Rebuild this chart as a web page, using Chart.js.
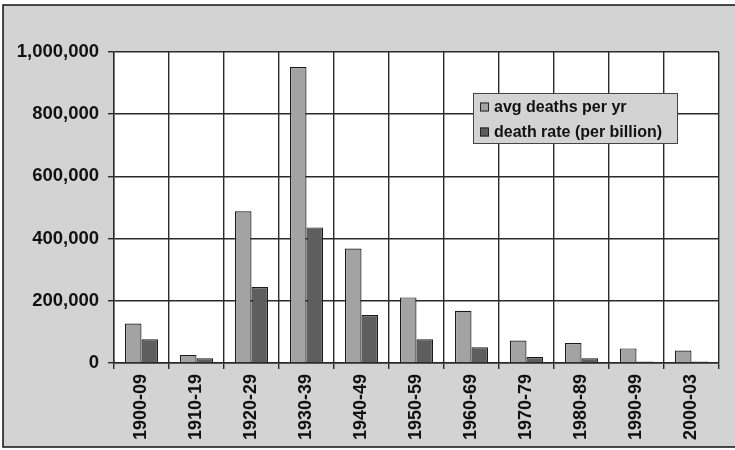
<!DOCTYPE html>
<html>
<head>
<meta charset="utf-8">
<script src="https://cdn.jsdelivr.net/npm/chart.js@4/dist/chart.umd.min.js"></script>
<style>
html,body{margin:0;padding:0;background:#fff;}
#c{display:block;}
</style>
</head>
<body>
<canvas id="c" width="735" height="450"></canvas>
<script>
const categories = ["1900-09","1910-19","1920-29","1930-39","1940-49","1950-59","1960-69","1970-79","1980-89","1990-99","2000-03"];
const avgDeathsPerYr = [127000, 26000, 488000, 952000, 368000, 211000, 168000, 72000, 64000, 47000, 40000];
const deathRatePerBillion = [76000, 15000, 244000, 436000, 154000, 76000, 51000, 19000, 15000, 5000, 5000];
const seriesNames = ["avg deaths per yr", "death rate (per billion)"];
const yTicks = [0, 200000, 400000, 600000, 800000, 1000000];

const FONT = "'Liberation Sans', Arial, sans-serif";

const bgPlugin = {
  id: 'bg',
  beforeDraw(chart) {
    const ctx = chart.ctx;
    const a = chart.chartArea;
    ctx.save();
    ctx.fillStyle = '#ffffff';
    ctx.fillRect(0, 0, chart.width, chart.height);
    ctx.fillStyle = '#d3d3d3';
    ctx.fillRect(3, 5, chart.width - 3, 442);
    ctx.strokeStyle = '#111';
    ctx.lineWidth = 1.5;
    ctx.beginPath();
    ctx.moveTo(chart.width, 5); ctx.lineTo(3, 5); ctx.lineTo(3, 447); ctx.lineTo(chart.width, 447);
    ctx.stroke();
    ctx.fillStyle = '#ffffff';
    ctx.fillRect(a.left, a.top, a.right - a.left, a.bottom - a.top);
    ctx.restore();
  }
};

const legendBox = {
  id: 'legendBox',
  afterDatasetsDraw(chart) {
    const ctx = chart.ctx;
    const x = 473, y = 93, w = 204, h = 50;
    ctx.save();
    ctx.fillStyle = '#d3d3d3';
    ctx.fillRect(x, y, w, h);
    ctx.strokeStyle = '#444';
    ctx.lineWidth = 1;
    ctx.strokeRect(x + 0.5, y + 0.5, w, h);
    ctx.font = 'bold 16px ' + FONT;
    ctx.textBaseline = 'middle';
    chart.data.datasets.forEach((ds, i) => {
      const cy = y + 14 + i * 25;
      ctx.fillStyle = ds.backgroundColor;
      ctx.fillRect(x + 7, cy - 4.5, 9, 9);
      ctx.strokeStyle = '#222';
      ctx.strokeRect(x + 7.5, cy - 4, 8, 8);
      ctx.fillStyle = '#111';
      ctx.fillText(ds.label, x + 21, cy + 1);
    });
    ctx.restore();
  }
};

new Chart(document.getElementById('c'), {
  type: 'bar',
  data: {
    labels: categories,
    datasets: [
      { label: seriesNames[0], data: avgDeathsPerYr, backgroundColor: '#a3a3a3', borderColor: '#1a1a1a', borderWidth: 1.2 },
      { label: seriesNames[1], data: deathRatePerBillion, backgroundColor: '#5e5e5e', borderColor: '#1a1a1a', borderWidth: 1.2 }
    ]
  },
  options: {
    responsive: false,
    animation: false,
    devicePixelRatio: 1,
    layout: { padding: { left: 0, right: 16, top: 52, bottom: 0 } },
    datasets: { bar: { categoryPercentage: 0.6, barPercentage: 1.0 } },
    plugins: { legend: { display: false }, tooltip: { enabled: false } },
    scales: {
      x: {
        offset: true,
        grid: { offset: true, color: '#2a2a2a', lineWidth: 1.4, tickLength: 6, drawTicks: true },
        border: { color: '#2a2a2a', width: 1.4 },
        ticks: {
          minRotation: 90, maxRotation: 90, autoSkip: false, padding: 5,
          color: '#111', font: { family: FONT, size: 18, weight: 'bold' }
        },
        afterFit(s) { s.height = 87; }
      },
      y: {
        min: 0, max: 1000000,
        afterBuildTicks(s) { s.ticks = yTicks.map(v => ({ value: v })); },
        grid: { color: '#2a2a2a', lineWidth: 1.4, tickLength: 6 },
        border: { color: '#2a2a2a', width: 1.4 },
        ticks: {
          padding: 9, color: '#111',
          font: { family: FONT, size: 18.5, weight: 'bold' },
          callback: v => v.toLocaleString('en-US')
        },
        afterFit(s) { s.width = 114; }
      }
    }
  },
  plugins: [bgPlugin, legendBox]
});
</script>
</body>
</html>
